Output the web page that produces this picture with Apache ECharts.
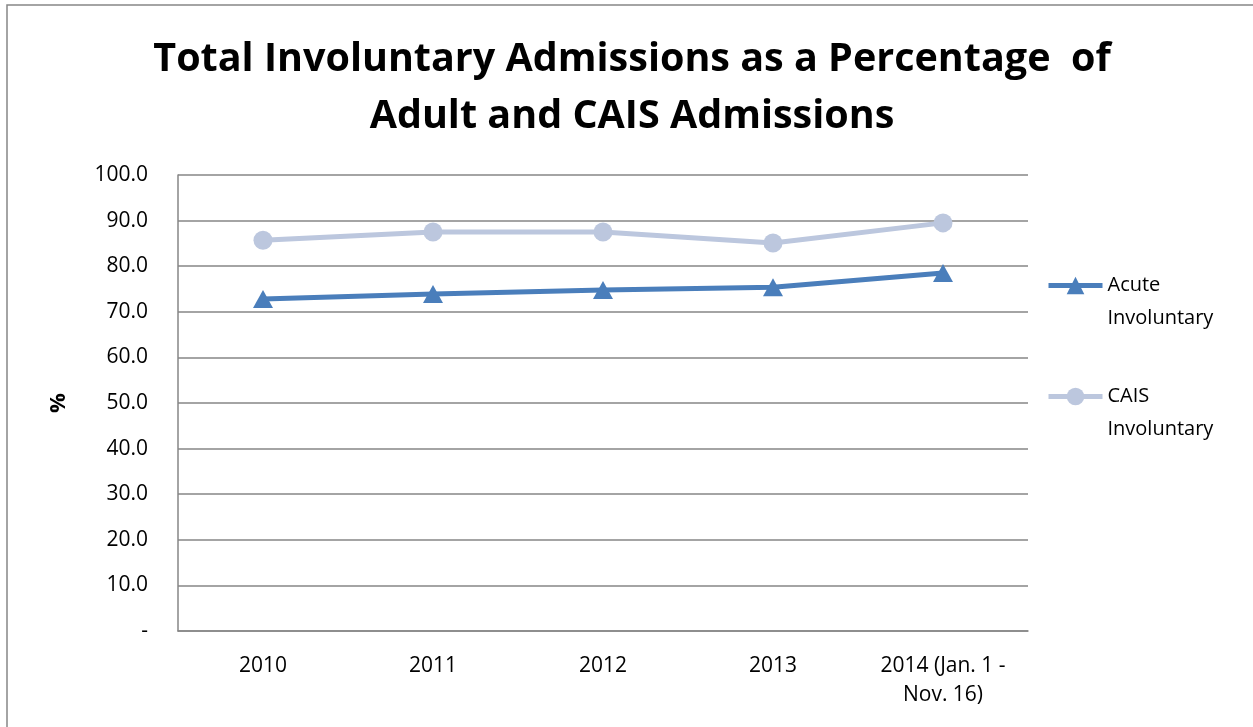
<!DOCTYPE html>
<html>
<head>
<meta charset="utf-8">
<script src="https://cdn.jsdelivr.net/npm/echarts@6/dist/echarts.min.js"></script>
<style>
html, body { margin: 0; padding: 0; background: #fff; }
#main { width: 1253px; height: 727px; }
</style>
</head>
<body>
<div id="main"></div>
<script>
var years = ['2010', '2011', '2012', '2013', '2014 (Jan. 1 -\nNov. 16)'];
var acute = [72.8, 73.9, 74.8, 75.4, 78.5];
var cais = [85.7, 87.5, 87.5, 85.1, 89.5];
var yTicks = { min: 0, max: 100, interval: 10 };

var myChart = echarts.init(document.getElementById('main'));
var font = 'Open Sans';

// blank first line so the icon sits next to the first word
function legendName(n) { return ' \n' + n.replace(' ', '\n'); }

var legendText = {
    color: '#000',
    fontFamily: font,
    fontSize: 20,
    lineHeight: 33
};

function legendFor(name, top) {
    return {
        data: [name],
        left: 1046,
        top: top,
        padding: 0,
        itemWidth: 54,
        itemHeight: 22,
        itemGap: 5,
        lineStyle: { width: 5 },
        formatter: legendName,
        textStyle: legendText
    };
}

myChart.setOption({
    backgroundColor: '#fff',
    animation: false,
    title: {
        text: 'Total Involuntary Admissions as a Percentage  of\nAdult and CAIS Admissions',
        left: 627,
        textAlign: 'center',
        top: 26,
        textStyle: {
            fontFamily: font,
            fontWeight: 'bold',
            fontSize: 39.5,
            lineHeight: 57,
            color: '#000'
        }
    },
    graphic: [{
        type: 'rect',
        shape: { x: 7, y: 5, width: 1260, height: 740 },
        style: { fill: 'none', stroke: '#868686', lineWidth: 1.5 },
        silent: true
    }],
    legend: [legendFor('Acute Involuntary', 236), legendFor('CAIS Involuntary', 347)],
    grid: { left: 178, right: 225, top: 175, bottom: 96 },
    xAxis: {
        type: 'category',
        data: years,
        boundaryGap: true,
        axisLine: { lineStyle: { color: '#868686', width: 1.5 } },
        axisTick: { show: false },
        axisLabel: {
            color: '#000',
            fontFamily: font,
            fontSize: 21,
            lineHeight: 29,
            margin: 21,
            interval: 0
        }
    },
    yAxis: {
        type: 'value',
        min: yTicks.min,
        max: yTicks.max,
        interval: yTicks.interval,
        name: '%',
        nameLocation: 'middle',
        nameGap: 108,
        nameRotate: 90,
        nameTextStyle: { color: '#000', fontFamily: font, fontWeight: 'bold', fontSize: 22 },
        axisLine: { show: true, lineStyle: { color: '#868686', width: 1.5 } },
        axisTick: { show: false },
        splitLine: { lineStyle: { color: '#868686', width: 1.5 } },
        axisLabel: {
            color: '#000',
            fontFamily: font,
            fontSize: 21,
            margin: 30,
            formatter: function (v) { return v === 0 ? '-' : v.toFixed(1); }
        }
    },
    series: [{
        name: 'Acute Involuntary',
        type: 'line',
        data: acute,
        symbol: 'triangle',
        symbolSize: [20, 18],
        lineStyle: { color: '#4A7EBB', width: 5 },
        itemStyle: { color: '#4A7EBB' }
    }, {
        name: 'CAIS Involuntary',
        type: 'line',
        data: cais,
        symbol: 'circle',
        symbolSize: 19,
        lineStyle: { color: '#BCC7DE', width: 5 },
        itemStyle: { color: '#BCC7DE' }
    }]
});
</script>
</body>
</html>
